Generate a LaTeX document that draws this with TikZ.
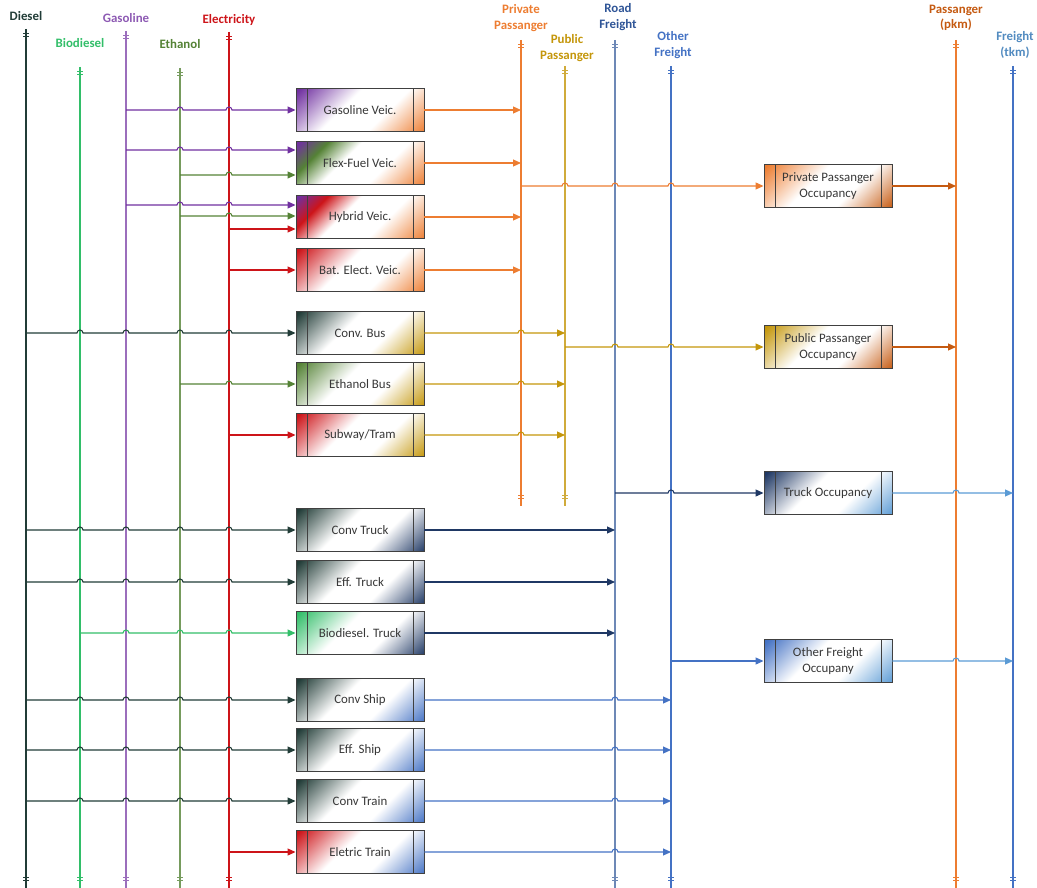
\documentclass[tikz,border=0pt]{standalone}
\usepackage{fontspec}
\setmainfont{Carlito}
\usetikzlibrary{arrows.meta,calc,positioning}

\definecolor{dslcol}{RGB}{33,60,55}
\definecolor{biocol}{RGB}{50,190,105}
\definecolor{gascol}{RGB}{112,48,160}
\definecolor{ethcol}{RGB}{84,130,53}
\definecolor{elecol}{RGB}{205,20,25}
\definecolor{prvcol}{RGB}{237,125,49}
\definecolor{pubcol}{RGB}{196,150,10}
\definecolor{roadcol}{RGB}{47,85,151}
\definecolor{trkcol}{RGB}{31,56,100}
\definecolor{othcol}{RGB}{68,114,196}
\definecolor{pkmcol}{RGB}{197,90,17}
\definecolor{tkmcol}{RGB}{91,155,213}
\definecolor{edgecol}{RGB}{64,64,64}
\colorlet{procA}{white}\colorlet{procB}{white}\colorlet{procC}{white}

\pgfdeclareverticalshading[procA,procB,procC]{procshade}{100bp}{%
  color(0bp)=(procC); color(14bp)=(procC); color(38bp)=(white); color(58bp)=(white);
  color(72bp)=(procB); color(84bp)=(procA); color(100bp)=(procA)}

\tikzset{
  busline/.style={line width=0.9pt},
  flow/.style={line width=0.9pt, -{Triangle[length=2.4mm, width=2.1mm]}},
  buslabel/.style={font=\fontsize{11}{13}\selectfont\bfseries, align=center, inner sep=0pt},
  proc/.style 2 args={draw=edgecol, line width=0.8pt, minimum width=38.4mm, minimum height=12.9mm,
    inner sep=0pt, font=\fontsize{11}{13.5}\selectfont, text=black!78, align=center,
    /utils/exec={\colorlet{procA}{#1}\colorlet{procB}{#1!55!white}\colorlet{procC}{#2}},
    shade, shading=procshade, shading angle=45,
    path picture={\draw[edgecol, line width=0.8pt]
      ([xshift=3.3mm]path picture bounding box.north west) -- ([xshift=3.3mm]path picture bounding box.south west)
      ([xshift=-3.3mm]path picture bounding box.north east) -- ([xshift=-3.3mm]path picture bounding box.south east);}},
  midtone/.style={/utils/exec={\colorlet{procB}{#1}}}
}

% name, colour, x, top, bottom
\newcommand{\bus}[5]{\coordinate (#1) at (#3,#4); \draw[busline, #2] (#1) -- (#3,#5);
  \draw[#2, line width=0.5pt] (#3-3,#4+4) -- (#3+3,#4+4) (#3-3,#4+7) -- (#3+3,#4+7)
    (#3-3,#5-11) -- (#3+3,#5-11) (#3-3,#5-8) -- (#3+3,#5-8);}
% colour, bus, target, buses hopped over
\newcommand{\hopfeed}[4]{\draw[flow, #1] (#2 |- #3) foreach \h in {#4} {-- ($(\h |- #3)+(-3,0)$) arc[start angle=180, end angle=0, radius=0.9mm]} -- (#3);}
\newcommand{\feed}[3]{\draw[flow, #1] (#2 |- #3) -- (#3);}
% colour, source, bus, buses hopped over
\newcommand{\hopout}[4]{\draw[flow, #1] (#2) foreach \h in {#4} {-- ($(\h |- #2)+(-3,0)$) arc[start angle=180, end angle=0, radius=0.9mm]} -- (#3 |- #2);}
\newcommand{\outto}[3]{\draw[flow, #1] (#2) -- (#3 |- #2);}

\begin{document}
\begin{tikzpicture}[x=0.3mm, y=-0.3mm]
    \useasboundingbox (0,0) rectangle (1037,888);
    % fuel buses
    \bus{dsl}{dslcol}{26}{29}{888}
    \bus{bio}{biocol}{80}{67}{888}
    \bus{gas}{gascol!70!white}{126}{31}{888}
    \bus{eth}{ethcol!80!white}{180}{68}{888}
    \bus{ele}{elecol}{229}{32}{888}
    \node[buslabel, text=dslcol] (dsl-lbl) at (26,16) {Diesel};
    \node[buslabel, text=biocol] (bio-lbl) at (80,43) {Biodiesel};
    \node[buslabel, text=gascol!80!white] (gas-lbl) at (126,18) {Gasoline};
    \node[buslabel, text=ethcol] (eth-lbl) at (180,44) {Ethanol};
    \node[buslabel, text=elecol] (ele-lbl) at (229,20) {Electricity};
    % service buses
    \bus{prv}{prvcol}{521}{40}{506}
    \bus{pub}{pubcol!80!white}{565}{66}{506}
    \bus{road}{roadcol!70!white}{615}{40}{888}
    \bus{oth}{othcol}{671}{66}{888}
    \bus{pkm}{prvcol}{956}{40}{888}
    \bus{tkm}{othcol}{1013}{66}{888}
    \node[buslabel, text=prvcol] (prv-lbl) at (521,18) {Private\\Passanger};
    \node[buslabel, text=pubcol] (pub-lbl) at (567,48) {Public\\Passanger};
    \node[buslabel, text=roadcol] (road-lbl) at (618,17) {Road\\Freight};
    \node[buslabel, text=othcol] (oth-lbl) at (673,45) {Other\\Freight};
    \node[buslabel, text=pkmcol] (pkm-lbl) at (956,18) {Passanger\\(pkm)};
    \node[buslabel, text=tkmcol!90!black] (tkm-lbl) at (1015,45) {Freight\\(tkm)};
    % vehicles
    \node[proc={gascol}{prvcol}] (gasveic) at (360,110) {Gasoline Veic.};
    \node[proc={gascol}{prvcol}, midtone=ethcol] (flexveic) at (360,163) {Flex-Fuel Veic.};
    \node[proc={gascol}{prvcol}, midtone=elecol] (hybveic) at (360,217) {Hybrid Veic.};
    \node[proc={elecol}{prvcol}] (batveic) at (360,270) {Bat. Elect. Veic.};
    \node[proc={dslcol}{pubcol}] (convbus) at (360,333) {Conv. Bus};
    \node[proc={ethcol}{pubcol}] (ethbus) at (360,384) {Ethanol Bus};
    \node[proc={elecol}{pubcol}] (subway) at (360,435) {Subway/Tram};
    \node[proc={dslcol}{trkcol}] (convtrk) at (360,530) {Conv Truck};
    \node[proc={dslcol}{trkcol}] (efftrk) at (360,582) {Eff. Truck};
    \node[proc={biocol}{trkcol}] (biotrk) at (360,633) {Biodiesel. Truck};
    \node[proc={dslcol}{othcol}] (convship) at (360,700) {Conv Ship};
    \node[proc={dslcol}{othcol}] (effship) at (360,750) {Eff. Ship};
    \node[proc={dslcol}{othcol}] (convtrain) at (360,801) {Conv Train};
    \node[proc={elecol}{othcol}] (eletrain) at (360,852) {Eletric Train};
    % occupancy
    \node[proc={prvcol}{pkmcol}] (prvocc) at (828,186) {Private Passanger\\Occupancy};
    \node[proc={pubcol}{pkmcol}] (pubocc) at (828,347) {Public Passanger\\Occupancy};
    \node[proc={trkcol}{tkmcol}] (trkocc) at (828,493) {Truck Occupancy};
    \node[proc={othcol}{tkmcol}] (othocc) at (828,661) {Other Freight\\Occupany};
    \coordinate (flex-g) at ($(flexveic.west)+(0,-13)$);
    \coordinate (flex-e) at ($(flexveic.west)+(0,12)$);
    \coordinate (hyb-g) at ($(hybveic.west)+(0,-12)$);
    \coordinate (hyb-e) at ($(hybveic.west)+(0,-1)$);
    \coordinate (hyb-l) at ($(hybveic.west)+(0,12)$);
    % fuel in
    \hopfeed{gascol}{gas}{gasveic.west}{eth,ele}
    \hopfeed{gascol}{gas}{flex-g}{eth,ele}
    \hopfeed{ethcol}{eth}{flex-e}{ele}
    \hopfeed{gascol}{gas}{hyb-g}{eth,ele}
    \hopfeed{ethcol}{eth}{hyb-e}{ele}
    \feed{elecol}{ele}{hyb-l}
    \feed{elecol}{ele}{batveic.west}
    \hopfeed{dslcol}{dsl}{convbus.west}{bio,gas,eth,ele}
    \hopfeed{ethcol}{eth}{ethbus.west}{ele}
    \feed{elecol}{ele}{subway.west}
    \hopfeed{dslcol}{dsl}{convtrk.west}{bio,gas,eth,ele}
    \hopfeed{dslcol}{dsl}{efftrk.west}{bio,gas,eth,ele}
    \hopfeed{biocol}{bio}{biotrk.west}{gas,eth,ele}
    \hopfeed{dslcol}{dsl}{convship.west}{bio,gas,eth,ele}
    \hopfeed{dslcol}{dsl}{effship.west}{bio,gas,eth,ele}
    \hopfeed{dslcol}{dsl}{convtrain.west}{bio,gas,eth,ele}
    \feed{elecol}{ele}{eletrain.west}
    % service out
    \outto{prvcol}{gasveic.east}{prv}
    \outto{prvcol}{flexveic.east}{prv}
    \outto{prvcol}{hybveic.east}{prv}
    \outto{prvcol}{batveic.east}{prv}
    \hopout{pubcol}{convbus.east}{pub}{prv}
    \hopout{pubcol}{ethbus.east}{pub}{prv}
    \hopout{pubcol}{subway.east}{pub}{prv}
    \outto{trkcol}{convtrk.east}{road}
    \outto{trkcol}{efftrk.east}{road}
    \outto{trkcol}{biotrk.east}{road}
    \hopout{othcol}{convship.east}{oth}{road}
    \hopout{othcol}{effship.east}{oth}{road}
    \hopout{othcol}{convtrain.east}{oth}{road}
    \hopout{othcol}{eletrain.east}{oth}{road}
    % occupancy in and out
    \hopfeed{prvcol}{prv}{prvocc.west}{pub,road,oth}
    \hopfeed{pubcol}{pub}{pubocc.west}{road,oth}
    \hopfeed{trkcol}{road}{trkocc.west}{oth}
    \feed{othcol}{oth}{othocc.west}
    \outto{pkmcol}{prvocc.east}{pkm}
    \outto{pkmcol}{pubocc.east}{pkm}
    \hopout{tkmcol}{trkocc.east}{tkm}{pkm}
    \hopout{tkmcol}{othocc.east}{tkm}{pkm}
\end{tikzpicture}
\end{document}
